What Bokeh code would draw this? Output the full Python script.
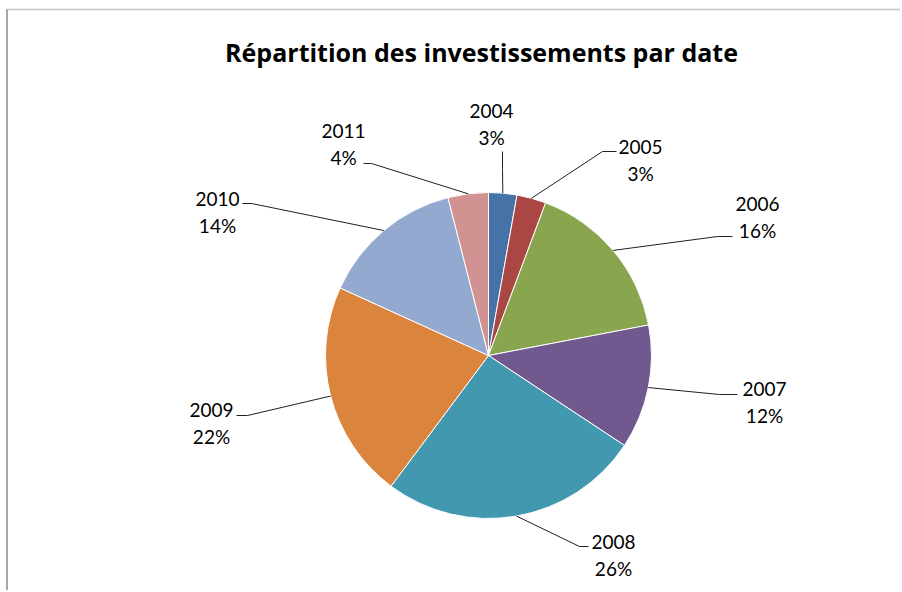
import math
from bokeh.plotting import figure
from bokeh.models import Range1d, ColumnDataSource
from bokeh.core.properties import value
from bokeh.embed import file_html
from bokeh.resources import INLINE

# ---- data ----
years = ["2004", "2005", "2006", "2007", "2008", "2009", "2010", "2011"]
shares = [2.8, 2.9, 16.3, 12.3, 25.9, 21.6, 14.2, 4.0]
colors = ["#4572A7", "#AA4643", "#89A54E", "#71588F", "#4198AF", "#DB843D", "#93A9CF", "#D19392"]
title_text = "Répartition des investissements par date"

# ---- layout (screen pixels) ----
X0, Y0 = 1, 1          # observed screen position of the figure's top-left corner
W, H = 900, 590
CX, CY, R = 489, 356, 163
# label (year line) centres in screen px
label_xy = [(492, 111), (641, 147), (758, 204), (765, 389), (614, 542), (212, 410), (218, 199), (344, 131)]
# leader line elbow and end points in screen px
leader_pts = [
    [(503, 170), (503, 152)],
    [(603, 152), (617, 152)],
    [(718, 237), (733, 237)],
    [(720, 395), (738, 395)],
    [(580, 547), (589, 547)],
    [(248, 416), (237, 416)],
    [(252, 204), (243, 204)],
    [(372, 164), (364, 164)],
]

def sy(y):
    return 592 - y

p = figure(width=W, height=H, output_backend="svg", toolbar_location=None,
           x_range=Range1d(X0, X0 + W), y_range=Range1d(592 - Y0 - H, 592 - Y0),
           min_border=0, outline_line_color=None)
p.axis.visible = False
p.grid.visible = False
p.background_fill_color = "white"
p.border_fill_color = "white"

total = sum(shares)
starts, ends, mids = [], [], []
cum = 0.0
for v in shares:
    a0 = cum / total
    cum += v
    a1 = cum / total
    starts.append(math.pi / 2 - a0 * 2 * math.pi)
    ends.append(math.pi / 2 - a1 * 2 * math.pi)
    mids.append(math.pi / 2 - (a0 + a1) / 2 * 2 * math.pi)

src = ColumnDataSource(dict(x=[CX] * len(shares), y=[sy(CY)] * len(shares),
                            start=starts, end=ends, color=colors))
p.wedge(x="x", y="y", radius=R, start_angle="start", end_angle="end",
        direction="clock", fill_color="color", line_color="white", line_width=1, source=src)

# leader lines
xs, ys = [], []
for m, pts in zip(mids, leader_pts):
    x0 = CX + R * math.cos(m)
    y0 = sy(CY) + R * math.sin(m)
    xs.append([x0] + [pt[0] for pt in pts])
    ys.append([y0] + [sy(pt[1]) for pt in pts])
p.multi_line(xs=xs, ys=ys, line_color="#202020", line_width=1)

# labels
pcts = [f"{round(v / total * 100)}%" for v in shares]
lx = [xy[0] for xy in label_xy]
ly = [sy(xy[1]) for xy in label_xy]
ly2 = [sy(xy[1] + 27) for xy in label_xy]
p.text(x=lx, y=ly, text=years, text_align="center", text_baseline="middle",
       text_font=value("Lato"), text_font_size="19px", text_color="black")
p.text(x=lx, y=ly2, text=pcts, text_align="center", text_baseline="middle",
       text_font=value("Lato"), text_font_size="19px", text_color="black")

# title
p.text(x=[482], y=[sy(52)], text=[title_text], text_align="center", text_baseline="middle",
       text_font=value("Open Sans"), text_font_size="25px", text_font_style="bold", text_color="black")

# chart border
p.segment(x0=[7], y0=[sy(10)], x1=[X0 + W], y1=[sy(10)], line_color="#C4C4C4", line_width=1.5)
p.segment(x0=[7.5], y0=[sy(10)], x1=[7.5], y1=[sy(600)], line_color="#8A8A8A", line_width=1.5)

open("out.html", "w").write(file_html(p, INLINE))
